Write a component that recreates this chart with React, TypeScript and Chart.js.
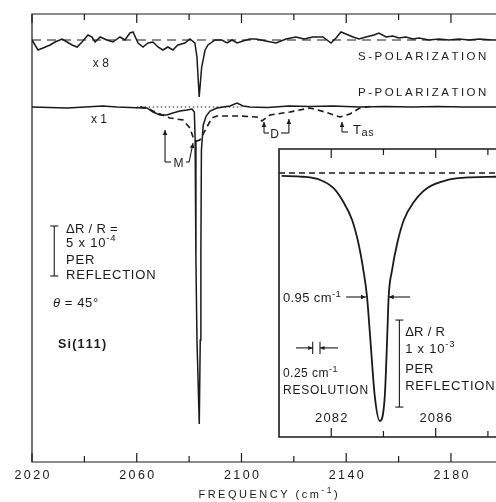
import React, { useEffect, useRef } from 'react';
import { Chart, registerables } from 'chart.js';
Chart.register(...registerables);

const INK = '#1a1a1a';
const FONT = '"Liberation Sans", Arial, sans-serif';

// ---------- main panel data (frequency in cm^-1, signal in units of 1e-4 dR/R, offset traces) ----------
const X_TICKS = [2020, 2040, 2060, 2080, 2100, 2120, 2140, 2160, 2180];
const X_LABELS = [2020, 2060, 2100, 2140, 2180];
const X_MIN = 2020;
const X_MAX = 2197.2;
const Y_MIN = -35.5;
const Y_MAX = 9.3;

const S_FREQ = [2020, 2022.3, 2024.2, 2026.9, 2028.8, 2031.5, 2033.4, 2035.3, 2037.2, 2039.1, 2041.4, 2042.9, 2044.1, 2046.0, 2048.6, 2050.9, 2053.6, 2055.5, 2057.4, 2058.6, 2060.5, 2062.4, 2064.3, 2066.2, 2068.1, 2070.0, 2071.9, 2073.8, 2075.7, 2078.4, 2080.3, 2082.2, 2083.0, 2083.85, 2084.8, 2086.1, 2087.2, 2089.9, 2092.5, 2094.5, 2096.4, 2098.3, 2100.6, 2103.2, 2105.5, 2109.3, 2113.2, 2117.0, 2120.8, 2123.9, 2127.3, 2131.1, 2134.2, 2136.1, 2138.0, 2139.9, 2142.6, 2144.9, 2147.5, 2150.6, 2152.5, 2155.2, 2157.8, 2160.1, 2162.8, 2165.5, 2167.8, 2171.6, 2175.4, 2179.2, 2183.0, 2186.9, 2190.7, 2196.0, 2197.2];
const S_VALUES = [6.7, 5.7, 5.9, 6.2, 6.5, 6.8, 6.5, 6.2, 6.0, 6.5, 7.2, 7.0, 6.5, 7.0, 6.7, 6.5, 7.0, 6.7, 7.4, 7.5, 6.4, 6.0, 6.4, 6.5, 6.0, 5.7, 6.0, 5.7, 6.2, 6.4, 6.8, 6.4, 5.0, 1.0, 4.0, 5.7, 6.2, 6.7, 6.7, 6.4, 6.7, 6.4, 6.6, 6.8, 6.8, 6.6, 6.4, 6.8, 7.0, 6.8, 7.0, 7.0, 6.4, 6.9, 7.5, 7.3, 7.0, 6.8, 7.0, 7.2, 7.4, 7.0, 7.1, 6.9, 7.0, 6.8, 6.9, 6.7, 6.8, 6.7, 6.8, 6.7, 6.8, 6.7, 6.7];
const S_BASELINE = 6.7;

const P_FREQ = [2020, 2033.4, 2047.1, 2052.5, 2062.4, 2063.9, 2066.2, 2068.9, 2071.5, 2073.8, 2076.5, 2079.2, 2081.1, 2082.0, 2082.3, 2082.6, 2083.0, 2083.88, 2084.25, 2084.5, 2084.7, 2085.4, 2086.5, 2088.0, 2090.6, 2095.6, 2098.3, 2100.6, 2103.2, 2110, 2118, 2126, 2135, 2145, 2155, 2165, 2175, 2185, 2197.2];
const P_VALUES = [0, -0.1, 0.1, 0, -0.1, -0.1, -0.5, -0.8, -0.8, -0.6, -0.4, -0.3, -0.2, -0.5, -3.3, -15.3, -23.3, -31.7, -23.3, -14.3, -4.3, -1.8, -0.9, -0.4, -0.1, 0.1, 0.4, 0.1, 0, -0.05, 0.1, 0.05, 0.1, 0, 0.05, 0, 0.05, 0, 0];

const PD_FREQ = [2061.2, 2063.9, 2066.2, 2068.9, 2072.7, 2077.7, 2080.3, 2081.5, 2082.8, 2084.1, 2086.8, 2088.7, 2090.6, 2099.4, 2105.9, 2107.8, 2110.9, 2118.5, 2126.1, 2131.9, 2137.6, 2141.4, 2145.2, 2149.1];
const PD_VALUES = [0, -0.1, -0.4, -0.7, -1.1, -1.3, -2.1, -3.0, -3.4, -3.3, -2.0, -1.1, -0.9, -0.9, -1.0, -1.4, -0.8, -0.5, -0.1, -0.5, -1.0, -0.7, -0.1, 0.05];

const REF_FREQ = [2060, 2100];
const REF_VALUES = [0, 0];

// ---------- inset data ----------
const IN_X_MIN = 2080;
const IN_X_MAX = 2088.31;
const IN_Y_MIN = -30.34;
const IN_Y_MAX = 2.76;
const IN_TICKS = [2082, 2084, 2086, 2088];
const IN_LABELS = [2082, 2086];
const IN_FREQ = [2080.1, 2080.92, 2081.58, 2082.08, 2082.46, 2082.8, 2083.04, 2083.23, 2083.37, 2083.5, 2083.67, 2083.86, 2084.05, 2084.14, 2084.2, 2084.33, 2084.53, 2084.78, 2085.17, 2085.68, 2086.45, 2087.35, 2088.31];
const IN_VALUES = [-0.34, -0.43, -0.8, -1.72, -3.3, -5.4, -8.05, -11.15, -14.2, -19.2, -25.7, -28.5, -25.7, -19.2, -14.2, -11.15, -8.05, -5.4, -3.3, -1.72, -0.8, -0.49, -0.43];

const pts = (xs: number[], ys: number[]) => xs.map((x, i) => ({ x, y: ys[i] }));

type Seg = { t: string; s?: number; dy?: number; style?: string };
function drawText(
  ctx: CanvasRenderingContext2D,
  segs: Seg[],
  x: number,
  cy: number,
  o: { size: number; spacing?: number; align?: 'left' | 'center' | 'right'; weight?: string }
) {
  const sp = o.spacing ?? 0;
  const items: { ch: string; font: string; w: number; dy: number }[] = [];
  for (const seg of segs) {
    const sz = seg.s ?? o.size;
    const font = `${seg.style ?? 'normal'} ${o.weight ?? 'normal'} ${sz}px ${FONT}`;
    ctx.font = font;
    for (const ch of Array.from(seg.t)) items.push({ ch, font, w: ctx.measureText(ch).width, dy: seg.dy ?? 0 });
  }
  const total = items.reduce((a, it) => a + it.w, 0) + sp * (items.length - 1);
  let cx = o.align === 'center' ? x - total / 2 : o.align === 'right' ? x - total : x;
  const base = cy + 0.36 * o.size;
  ctx.textAlign = 'left';
  ctx.textBaseline = 'alphabetic';
  for (const it of items) {
    ctx.font = it.font;
    ctx.fillText(it.ch, cx, base + it.dy);
    cx += it.w + sp;
  }
}

function line(ctx: CanvasRenderingContext2D, p: number[][]) {
  ctx.beginPath();
  ctx.moveTo(p[0][0], p[0][1]);
  for (let i = 1; i < p.length; i++) ctx.lineTo(p[i][0], p[i][1]);
  ctx.stroke();
}

function arrow(ctx: CanvasRenderingContext2D, x1: number, y1: number, x2: number, y2: number, head = 5, hw = 2.3) {
  line(ctx, [[x1, y1], [x2, y2]]);
  const a = Math.atan2(y2 - y1, x2 - x1);
  const c = Math.cos(a), s = Math.sin(a);
  ctx.beginPath();
  ctx.moveTo(x2, y2);
  ctx.lineTo(x2 - head * c + hw * s, y2 - head * s - hw * c);
  ctx.lineTo(x2 - head * c - hw * s, y2 - head * s + hw * c);
  ctx.closePath();
  ctx.fill();
}

const mainPlugin = {
  id: 'mainDecor',
  afterDraw(chart: any) {
    const { ctx, chartArea: a } = chart;
    const xs = chart.scales.x, ys = chart.scales.y;
    const X = (v: number) => xs.getPixelForValue(v);
    const Y = (v: number) => ys.getPixelForValue(v);
    ctx.save();
    ctx.strokeStyle = INK;
    ctx.fillStyle = INK;
    ctx.lineWidth = 1.2;
    line(ctx, [[a.right, a.top], [a.left, a.top], [a.left, a.bottom], [a.right, a.bottom]]);
    for (const t of X_TICKS) {
      const px = X(t);
      const len = X_LABELS.includes(t) ? 9 : 6;
      line(ctx, [[px, a.top], [px, a.top + len]]);
      line(ctx, [[px, a.bottom], [px, a.bottom - len]]);
    }
    for (const t of X_LABELS) {
      drawText(ctx, [{ t: String(t) }], X(t), a.bottom + 12.5, { size: 12.5, spacing: 2.4, align: 'center' });
    }
    drawText(ctx, [{ t: 'FREQUENCY (cm' }, { t: '-1', s: 8.5, dy: -4.5 }, { t: ')' }], a.left + 236, a.bottom + 32, {
      size: 11,
      spacing: 2.5,
      align: 'center',
    });

    // trace labels
    drawText(ctx, [{ t: 'x 8' }], X(2046.3), Y(4.4), { size: 12, align: 'center' });
    drawText(ctx, [{ t: 'x 1' }], X(2045.6), Y(-1.2), { size: 12, align: 'center' });
    drawText(ctx, [{ t: 'S-POLARIZATION' }], X(2144.5), Y(5.1), { size: 11.5, spacing: 2.5 });
    drawText(ctx, [{ t: 'P-POLARIZATION' }], X(2144.5), Y(1.5), { size: 11.5, spacing: 2.5 });

    // scale bar
    ctx.lineWidth = 1.1;
    const bx = X(2028.5), b1 = Y(-11.9), b2 = Y(-16.9);
    line(ctx, [[bx, b1], [bx, b2]]);
    line(ctx, [[bx - 4, b1], [bx + 4, b1]]);
    line(ctx, [[bx - 4, b2], [bx + 4, b2]]);
    const tx = X(2033.0);
    drawText(ctx, [{ t: '\u0394R / R =' }], tx, Y(-12.1), { size: 13, spacing: 0.3 });
    drawText(ctx, [{ t: '5 x 10' }, { t: '-4', s: 9.5, dy: -6 }], tx, Y(-13.5), { size: 13, spacing: 0.8 });
    drawText(ctx, [{ t: 'PER' }], tx, Y(-15.2), { size: 13, spacing: 0.8 });
    drawText(ctx, [{ t: 'REFLECTION' }], tx, Y(-16.7), { size: 13, spacing: 0.8 });
    drawText(ctx, [{ t: '\u03b8', style: 'italic' }, { t: ' = 45\u00b0' }], X(2028.0), Y(-19.5), { size: 13, spacing: 0.6 });
    drawText(ctx, [{ t: 'Si(111)' }], X(2029.9), Y(-23.6), { size: 12.5, spacing: 1.2, weight: 'bold' });

    // M marker
    ctx.lineWidth = 1.1;
    const mx = X(2070.8);
    arrow(ctx, mx, Y(-5.5), mx, Y(-2.3));
    line(ctx, [[mx, Y(-5.5)], [X(2073.1), Y(-5.5)]]);
    drawText(ctx, [{ t: 'M' }], X(2075.9), Y(-5.6), { size: 12, align: 'center' });
    line(ctx, [[X(2078.8), Y(-5.5)], [X(2080.0), Y(-5.5)]]);
    arrow(ctx, X(2080.0), Y(-5.5), X(2081.5), Y(-3.6));

    // D marker
    const dx1 = X(2108.6), dx2 = X(2118.1);
    arrow(ctx, dx1, Y(-2.6), dx1, Y(-1.5));
    line(ctx, [[dx1, Y(-2.6)], [X(2110.5), Y(-2.6)]]);
    drawText(ctx, [{ t: 'D' }], X(2112.6), Y(-2.7), { size: 12, align: 'center' });
    line(ctx, [[X(2115.1), Y(-2.6)], [dx2, Y(-2.6)]]);
    arrow(ctx, dx2, Y(-2.6), dx2, Y(-1.2));

    // Tas marker
    const tax = X(2138.4);
    arrow(ctx, tax, Y(-2.5), tax, Y(-1.5));
    line(ctx, [[tax, Y(-2.5)], [X(2140.7), Y(-2.5)]]);
    drawText(ctx, [{ t: 'T' }, { t: 'as', s: 11, dy: 2.5 }], X(2142.6), Y(-2.2), { size: 13, spacing: 0.6 });
    ctx.restore();
  },
};

const insetPlugin = {
  id: 'insetDecor',
  beforeDraw(chart: any) {
    const { ctx, chartArea: a } = chart;
    ctx.save();
    ctx.fillStyle = '#ffffff';
    ctx.fillRect(a.left, a.top, a.right - a.left, a.bottom - a.top);
    ctx.restore();
  },
  afterDraw(chart: any) {
    const { ctx, chartArea: a } = chart;
    const xs = chart.scales.x, ys = chart.scales.y;
    const X = (v: number) => xs.getPixelForValue(v);
    const Y = (v: number) => ys.getPixelForValue(v);
    ctx.save();
    ctx.strokeStyle = INK;
    ctx.fillStyle = INK;
    ctx.lineWidth = 1.6;
    line(ctx, [[a.right, a.top], [a.left, a.top], [a.left, a.bottom], [a.right, a.bottom]]);
    ctx.lineWidth = 1.2;
    for (const t of IN_TICKS) {
      const px = X(t);
      const len = IN_LABELS.includes(t) ? 9 : 6;
      line(ctx, [[px, a.top], [px, a.top + len]]);
      line(ctx, [[px, a.bottom], [px, a.bottom - len]]);
    }
    for (const t of IN_LABELS) {
      drawText(ctx, [{ t: String(t) }], X(t), a.bottom - 20, { size: 13, spacing: 1.2, align: 'center' });
    }
    // width marker
    ctx.lineWidth = 1.1;
    drawText(ctx, [{ t: '0.95 cm' }, { t: '-1', s: 9.5, dy: -5 }], X(2080.15), Y(-14.25), { size: 13, spacing: 0.4 });
    arrow(ctx, X(2082.57), Y(-14.25), X(2083.33), Y(-14.25));
    arrow(ctx, X(2085.02), Y(-14.25), X(2084.2), Y(-14.25));

    // scale bar
    const bx = X(2084.61), b1 = Y(-16.9), b2 = Y(-26.9);
    line(ctx, [[bx, b1], [bx, b2]]);
    line(ctx, [[bx - 4, b1], [bx + 4, b1]]);
    line(ctx, [[bx - 4, b2], [bx + 4, b2]]);
    const tx = X(2084.83);
    drawText(ctx, [{ t: '\u0394R / R' }], tx, Y(-18.24), { size: 13, spacing: 0.3 });
    drawText(ctx, [{ t: '1 x 10' }, { t: '-3', s: 9.5, dy: -6 }], tx, Y(-20.1), { size: 13, spacing: 0.8 });
    drawText(ctx, [{ t: 'PER' }], tx, Y(-22.4), { size: 13, spacing: 0.8 });
    drawText(ctx, [{ t: 'REFLECTION' }], tx, Y(-24.4), { size: 13, spacing: 0.8 });

    // resolution marker
    const r1 = X(2081.29), r2 = X(2081.57), ry = Y(-20.1);
    line(ctx, [[r1, Y(-19.4)], [r1, Y(-20.8)]]);
    line(ctx, [[r2, Y(-19.4)], [r2, Y(-20.8)]]);
    arrow(ctx, X(2080.65), ry, r1, ry, 4.5, 2);
    arrow(ctx, X(2082.26), ry, r2, ry, 4.5, 2);
    drawText(ctx, [{ t: '0.25 cm' }, { t: '-1', s: 9, dy: -5 }], X(2080.15), Y(-22.9), { size: 12, spacing: 0.5 });
    drawText(ctx, [{ t: 'RESOLUTION' }], X(2080.15), Y(-24.9), { size: 12, spacing: 0.8 });
    ctx.restore();
  },
};

function lineDs(data: { x: number; y: number }[], extra: any = {}) {
  return {
    data,
    borderColor: INK,
    borderWidth: 1.5,
    pointRadius: 0,
    fill: false,
    tension: 0,
    ...extra,
  };
}

export default function App() {
  const mainRef = useRef<HTMLCanvasElement>(null);
  const insetRef = useRef<HTMLCanvasElement>(null);

  useEffect(() => {
    const main = new Chart(mainRef.current as HTMLCanvasElement, {
      type: 'line',
      data: {
        datasets: [
          lineDs(pts([X_MIN, X_MAX], [S_BASELINE, S_BASELINE]), { borderWidth: 1, borderDash: [9, 6] }),
          lineDs(pts(S_FREQ, S_VALUES), { borderWidth: 1.5 }),
          lineDs(pts(REF_FREQ, REF_VALUES), { borderWidth: 1.2, borderDash: [1.5, 2.5] }),
          lineDs(pts(PD_FREQ, PD_VALUES), { borderWidth: 1.6, borderDash: [6, 4] }),
          lineDs(pts(P_FREQ, P_VALUES), { borderWidth: 1.5 }),
        ] as any,
      },
      options: {
        animation: false,
        responsive: false,
        devicePixelRatio: 1,
        parsing: false,
        layout: { padding: { left: 32, top: 14, right: 0, bottom: 40 } },
        plugins: { legend: { display: false }, tooltip: { enabled: false } },
        scales: {
          x: { type: 'linear', min: X_MIN, max: X_MAX, display: false },
          y: { type: 'linear', min: Y_MIN, max: Y_MAX, display: false },
        },
      } as any,
      plugins: [mainPlugin],
    });
    const inset = new Chart(insetRef.current as HTMLCanvasElement, {
      type: 'line',
      data: {
        datasets: [
          lineDs(pts([IN_X_MIN, IN_X_MAX], [0, 0]), { borderWidth: 1.3, borderDash: [6, 4] }),
          lineDs(pts(IN_FREQ, IN_VALUES), { borderWidth: 1.8, cubicInterpolationMode: 'monotone' }),
        ] as any,
      },
      options: {
        animation: false,
        responsive: false,
        devicePixelRatio: 1,
        parsing: false,
        layout: { padding: { left: 5, top: 5, right: 0, bottom: 5 } },
        plugins: { legend: { display: false }, tooltip: { enabled: false } },
        scales: {
          x: { type: 'linear', min: IN_X_MIN, max: IN_X_MAX, display: false },
          y: { type: 'linear', min: IN_Y_MIN, max: IN_Y_MAX, display: false },
        },
      } as any,
      plugins: [insetPlugin],
    });
    return () => {
      main.destroy();
      inset.destroy();
    };
  }, []);

  return (
    <div style={{ position: 'absolute', left: 0, top: 0, width: 496, height: 502, background: '#ffffff', overflow: 'hidden' }}>
      <canvas ref={mainRef} width={496} height={502} style={{ position: 'absolute', left: 0, top: 0, width: 496, height: 502 }} />
      <canvas ref={insetRef} width={222} height={298} style={{ position: 'absolute', left: 274, top: 144, width: 222, height: 298 }} />
    </div>
  );
}
